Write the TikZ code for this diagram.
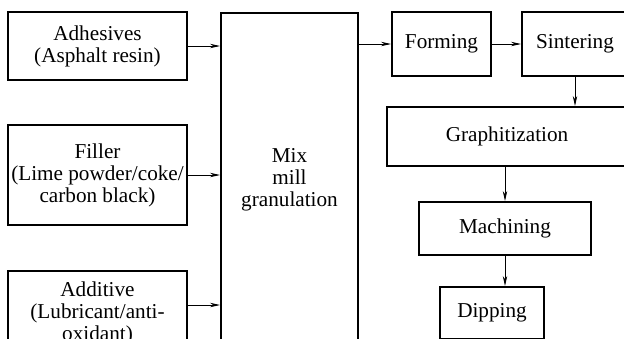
\documentclass[tikz,border=0pt]{standalone}
\usepackage{fontspec}
\setmainfont{Liberation Serif}
\usetikzlibrary{arrows.meta,positioning,calc}

\begin{document}
\begin{tikzpicture}[
    x=0.5pt, y=-0.5pt,
    stage/.style={rectangle, draw=black, line width=1pt, align=center, inner sep=0pt, font=\fontsize{10.6}{11}\selectfont},
    feed/.style={-{Stealth[length=5pt,width=2.2pt]}, line width=0.4pt},
]
\useasboundingbox (0,0) rectangle (624,338);
\clip (0,0) rectangle (624,338);

% Raw materials on the left
\node[stage, minimum width=89.5pt, minimum height=34pt] (adh) at (97.5,46) {Adhesives\\(Asphalt resin)};
\node[stage, minimum width=89.5pt, minimum height=50pt] (fill) at (97.5,175) {Filler\\(Lime powder/coke/\\carbon black)};
\node[stage, minimum width=89.5pt, minimum height=42pt] (addi) at (97.5,313) {Additive\\(Lubricant/anti-\\oxidant)};

% Mixing
\node[stage, minimum width=68.5pt, minimum height=167pt] (mix) at (289.5,180) {Mix\\mill\\granulation};

% Process chain
\node[stage, minimum width=49.5pt, minimum height=32pt] (form) at (441.5,44) {Forming};
\node[stage, minimum width=53pt, minimum height=32pt] (sint) at (575,44) {Sintering};
\node[stage, minimum width=120pt, minimum height=29.5pt] (graph) at (507,136.5) {Graphitization};
\node[stage, minimum width=86pt, minimum height=26.5pt] (mach) at (505,228.5) {Machining};
\node[stage, minimum width=52pt, minimum height=26pt] (dip) at (492,313) {Dipping};

% Arrows
\draw[feed] (adh) -- (adh -| mix.west);
\draw[feed] (fill) -- (fill -| mix.west);
\draw[feed] ([yshift=4pt]addi.east) -- ([yshift=4pt]addi.east -| mix.west);
\draw[feed] (mix.east |- form) -- (form);
\draw[feed] (form) -- (sint);
\draw[feed] (sint.south) -- (sint.south |- graph.north);
\draw[feed] (graph.south -| mach) -- (mach);
\draw[feed] (mach.south) -- (mach.south |- dip.north);

\end{tikzpicture}
\end{document}
